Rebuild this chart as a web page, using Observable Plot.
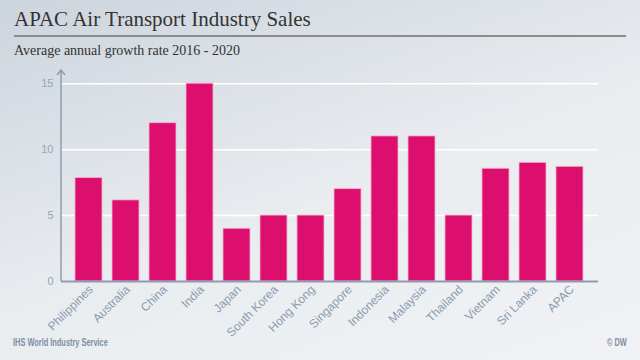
<!DOCTYPE html>
<html>
<head>
<meta charset="utf-8">
<script src="https://cdn.jsdelivr.net/npm/d3@7"></script>
<script src="https://cdn.jsdelivr.net/npm/@observablehq/plot@0.6"></script>
<style>
  html, body { margin: 0; padding: 0; }
  body { width: 640px; height: 360px; overflow: hidden; }
  #wrap {
    position: relative; width: 640px; height: 360px;
    background: linear-gradient(160deg, #ccd4dc 0%, #dde2e8 30%, #eaedf0 55%, #f0f2f5 100%);
  }
  #title {
    position: absolute; left: 14px; top: 9px; line-height: 1;
    font-family: "Liberation Serif", "Times New Roman", serif; font-size: 21px; color: #333;
    white-space: nowrap;
  }
  #rule { position: absolute; left: 14px; top: 35px; width: 612px; height: 2px; background: #8c8c8c; }
  #subtitle {
    position: absolute; left: 14px; top: 44px; line-height: 1;
    font-family: "Liberation Serif", "Times New Roman", serif; font-size: 14px; color: #333;
    white-space: nowrap;
  }
  #chart { position: absolute; left: 0; top: 60px; }
  .foot {
    position: absolute; top: 338px; line-height: 1;
    font-family: "Liberation Sans", Arial, sans-serif;
    font-weight: bold; font-size: 10px; color: #7d8ea3; white-space: nowrap;
    transform: scaleX(0.74);
  }
  #source { left: 13px; transform-origin: left center; }
  #credit { right: 13px; transform-origin: right center; }
</style>
</head>
<body>
<div id="wrap">
  <div id="title">APAC Air Transport Industry Sales</div>
  <div id="rule"></div>
  <div id="subtitle">Average annual growth rate 2016 - 2020</div>
  <div id="chart"></div>
  <div class="foot" id="source">IHS World Industry Service</div>
  <div class="foot" id="credit">© DW</div>
</div>
<script>
const categories = ["Philippines", "Australia", "China", "India", "Japan", "South Korea", "Hong Kong",
  "Singapore", "Indonesia", "Malaysia", "Thailand", "Vietnam", "Sri Lanka", "APAC"];
const values = [7.85, 6.15, 12, 15, 4, 5, 5, 7, 11, 11, 5, 8.55, 9, 8.7];
const yTicks = [0, 5, 10, 15];
const yMax = 16;

const data = categories.map((c, i) => ({country: c, value: values[i]}));

const axisColor = "#8d9dae";

const yAxisLine = (index, scales, channels, dims) => {
  const x0 = dims.marginLeft;
  const yTop = scales.y(yMax), yBot = scales.y(0);
  const g = d3.create("svg:g");
  g.append("path")
    .attr("d", `M${x0},${yBot}V${yTop}M${x0 - 4},${yTop + 5}L${x0},${yTop}L${x0 + 4},${yTop + 5}`)
    .attr("fill", "none")
    .attr("stroke", axisColor)
    .attr("stroke-width", 1.5);
  return g.node();
};

const chart = Plot.plot({
  width: 640,
  height: 270,
  marginLeft: 61,
  marginRight: 42,
  marginTop: 10,
  marginBottom: 49,
  style: {background: "transparent", fontFamily: "'Liberation Sans', Arial, sans-serif", overflow: "visible"},
  x: {domain: categories, paddingInner: 0.26, paddingOuter: 0.385, label: null},
  y: {domain: [0, yMax], label: null},
  marks: [
    Plot.ruleY(yTicks.filter(d => d > 0), {stroke: "#ffffff", strokeWidth: 1.5}),
    Plot.barY(data, {x: "country", y: "value", fill: "#dc0e6e", stroke: "#f3b3cf", strokeWidth: 0.8}),
    Plot.ruleY([0], {stroke: axisColor, strokeWidth: 2}),
    yAxisLine,
    Plot.axisX({tickRotate: -45, tickSize: 0, tickPadding: 6, dx: 2, fontSize: 12, fill: "#8a9bb0", label: null}),
    Plot.axisY({ticks: yTicks, tickSize: 0, tickPadding: 8, fontSize: 11, fill: "#97a4b3", label: null})
  ]
});
document.getElementById("chart").appendChild(chart);
</script>
</body>
</html>
